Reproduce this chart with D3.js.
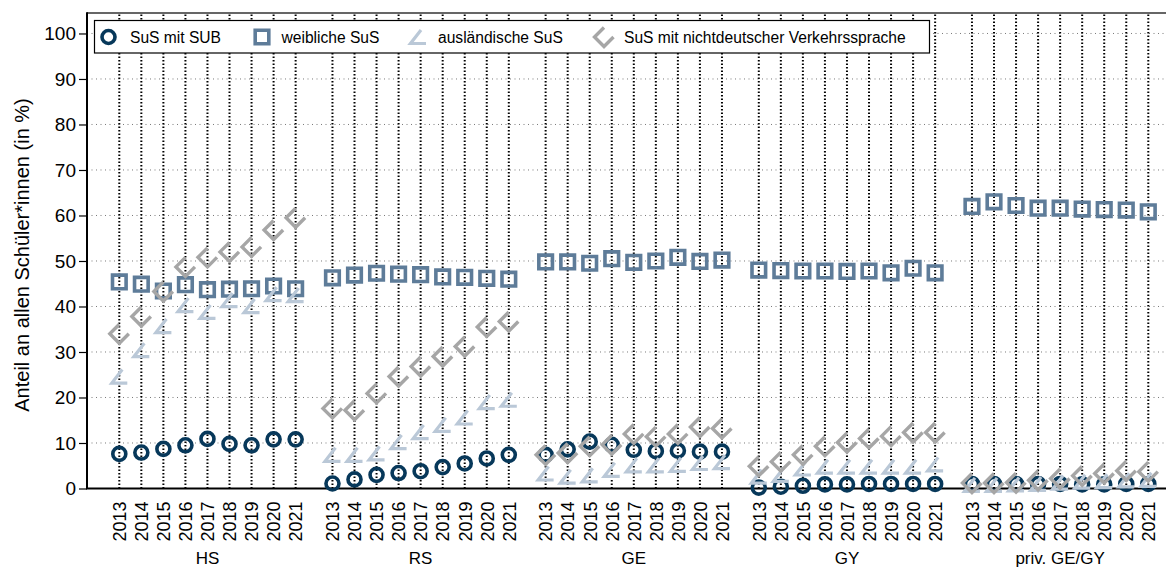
<!DOCTYPE html>
<html>
<head>
<meta charset="utf-8">
<script src="https://cdn.jsdelivr.net/npm/d3@7"></script>
<style>
  html, body { margin: 0; padding: 0; background: #fff; }
  svg { display: block; font-family: "Liberation Sans", Arial, sans-serif; }
</style>
</head>
<body>
<svg id="chart" width="1166" height="568"></svg>
<script>
// ---------------- data ----------------
const groups = ["HS", "RS", "GE", "GY", "priv. GE/GY"];
const years = [2013, 2014, 2015, 2016, 2017, 2018, 2019, 2020, 2021];
const yTicks = [0, 10, 20, 30, 40, 50, 60, 70, 80, 90, 100];
const seriesNames = ["SuS mit SUB", "weibliche SuS", "ausländische SuS", "SuS mit nichtdeutscher Verkehrssprache"];

// values in group order (HS, RS, GE, GY, priv. GE/GY), years 2013..2021
const susSUB = [
  7.6, 7.9, 8.7, 9.5, 10.9, 9.8, 9.5, 10.8, 10.8,
  1.1, 2.0, 3.0, 3.4, 3.8, 4.7, 5.5, 6.6, 7.4,
  7.4, 8.6, 10.3, 9.6, 8.5, 8.2, 8.3, 8.1, 8.1,
  0.2, 0.4, 0.6, 0.9, 0.9, 1.0, 1.0, 1.0, 1.0,
  1.0, 1.0, 1.0, 1.0, 1.0, 0.9, 0.9, 1.0, 1.0
];
const weiblich = [
  45.4, 44.9, 43.4, 44.8, 43.7, 43.8, 43.9, 44.5, 43.9,
  46.3, 46.9, 47.3, 47.1, 47.0, 46.5, 46.4, 46.2, 46.0,
  49.8, 49.8, 49.5, 50.5, 49.7, 50.0, 50.8, 49.9, 50.2,
  48.0, 47.9, 47.8, 47.8, 47.7, 47.8, 47.4, 48.4, 47.4,
  62.0, 63.0, 62.2, 61.6, 61.6, 61.4, 61.3, 61.2, 60.8
];
const auslaendisch = [
  24.6, 30.4, 35.7, 40.3, 38.8, 41.4, 40.1, 42.7, 42.5,
  7.4, 7.4, 7.7, 10.2, 12.4, 14.0, 15.6, 19.0, 19.5,
  3.3, 2.6, 2.9, 4.1, 5.1, 5.1, 5.2, 5.6, 5.8,
  2.6, 3.0, 4.4, 4.8, 4.8, 4.8, 4.8, 4.8, 5.3,
  0.8, 0.8, 0.9, 1.0, 1.3, 1.5, 1.6, 1.8, 1.9
];
const nichtdeutsch = [
  34.0, 37.8, 43.3, 48.7, 50.8, 52.0, 53.1, 56.8, 59.5,
  17.6, 17.2, 20.9, 24.6, 26.8, 29.0, 31.2, 35.5, 36.7,
  7.4, 7.8, 9.3, 9.6, 12.0, 11.4, 12.0, 13.5, 13.2,
  4.9, 5.9, 7.4, 9.3, 10.1, 11.0, 11.5, 12.3, 12.3,
  1.2, 1.2, 1.3, 1.8, 2.2, 2.8, 3.3, 3.9, 3.7
];

// ---------------- layout ----------------
const svg = d3.select("#chart");
const plotLeft = 87, plotRight = 1166, plotTop = 13, plotBottom = 488.5;
const slotsPerGroup = 9.671; // 9 years + gap between groups

const slots = [];
groups.forEach((g, gi) => years.forEach((yr, yi) => slots.push({ g, gi, yr, yi, s: gi * slotsPerGroup + yi })));

const x = d3.scaleLinear()
  .domain([0, (groups.length - 1) * slotsPerGroup + years.length - 1])
  .range([119.3, 1148.3]);
const y = d3.scaleLinear().domain([0, 104.5]).range([plotBottom, plotTop]);

// horizontal grid
svg.append("g").selectAll("line")
  .data(yTicks.filter(d => d > 0))
  .join("line")
  .attr("x1", plotLeft).attr("x2", plotRight)
  .attr("y1", d => y(d)).attr("y2", d => y(d))
  .attr("stroke", "#7a7a7a").attr("stroke-width", 1)
  .attr("stroke-dasharray", "1 3.5");

// vertical grid (dotted)
svg.append("g").selectAll("line")
  .data(slots)
  .join("line")
  .attr("x1", d => x(d.s)).attr("x2", d => x(d.s))
  .attr("y1", plotBottom).attr("y2", plotTop)
  .attr("stroke", "#000").attr("stroke-width", 2)
  .attr("stroke-dasharray", "1.5 2");

// frame: top line
svg.append("line")
  .attr("x1", plotLeft).attr("x2", plotRight)
  .attr("y1", plotTop).attr("y2", plotTop)
  .attr("stroke", "#333").attr("stroke-width", 1.5);

// y axis
const yAxis = d3.axisLeft(y).tickValues(yTicks).tickSize(8).tickPadding(3);
const gy = svg.append("g").attr("transform", `translate(${plotLeft},0)`).call(yAxis);
gy.select(".domain").remove();
gy.selectAll(".tick line").attr("stroke", "#000").attr("stroke-width", 1.2);
gy.selectAll(".tick text").attr("font-size", 19).attr("fill", "#000")
  .attr("font-family", "Liberation Sans, Arial, sans-serif");
svg.append("line")
  .attr("x1", plotLeft).attr("x2", plotLeft)
  .attr("y1", plotTop - 0.75).attr("y2", plotBottom)
  .attr("stroke", "#000").attr("stroke-width", 2);

// y axis title
svg.append("text")
  .attr("transform", `translate(29,${255}) rotate(-90)`)
  .attr("text-anchor", "middle")
  .attr("font-size", 20)
  .text("Anteil an allen Schüler*innen (in %)");

// x axis (years)
const xAxis = d3.axisBottom(x)
  .tickValues(slots.map(d => d.s))
  .tickFormat((d, i) => slots[i].yr)
  .tickSize(0).tickPadding(0);
const gx = svg.append("g").attr("transform", `translate(0,${plotBottom})`).call(xAxis);
gx.select(".domain").remove();
gx.selectAll(".tick text")
  .attr("font-size", 18).attr("fill", "#000")
  .attr("font-family", "Liberation Sans, Arial, sans-serif")
  .attr("transform", "rotate(-90)")
  .attr("text-anchor", "end")
  .attr("x", -13).attr("y", 0).attr("dy", "0.35em");
svg.append("line")
  .attr("x1", plotLeft - 1).attr("x2", plotRight)
  .attr("y1", plotBottom).attr("y2", plotBottom)
  .attr("stroke", "#000").attr("stroke-width", 2);

// group labels
svg.append("g").selectAll("text")
  .data(groups)
  .join("text")
  .attr("x", (d, gi) => (x(gi * slotsPerGroup) + x(gi * slotsPerGroup + years.length - 1)) / 2)
  .attr("y", 564)
  .attr("text-anchor", "middle")
  .attr("font-size", 17)
  .text(d => d);

// ---------------- markers ----------------
const markerDefs = [
  { values: susSUB, color: "#07385a", width: 3.6, path: d3.symbol(d3.symbolCircle, Math.PI * 6.5 * 6.5)() },
  { values: weiblich, color: "#5e7c99", width: 3.6, path: "M-6.8,-6.8H6.8V6.8H-6.8Z" },
  { values: auslaendisch, color: "#bac8d7", width: 3.2, path: "M3,-7L-7.5,6.5H8" },
  { values: nichtdeutsch, color: "#a6a6a6", width: 3.4, path: "M0,-9.5L-9.5,0L0,9.5L9.5,0" }
];

markerDefs.forEach(m => {
  svg.append("g").selectAll("path")
    .data(slots.map((s, i) => ({ s: s.s, v: m.values[i] })))
    .join("path")
    .attr("d", m.path)
    .attr("transform", d => `translate(${x(d.s)},${y(d.v)})`)
    .attr("fill", "none")
    .attr("stroke", m.color)
    .attr("stroke-width", m.width)
    .attr("stroke-linejoin", "miter");
});

// ---------------- legend ----------------
const lg = svg.append("g");
lg.append("rect")
  .attr("x", 94.5).attr("y", 20.5).attr("width", 835).attr("height", 32.5)
  .attr("fill", "#fff").attr("stroke", "#000").attr("stroke-width", 1.2);
const legendPos = [
  { mx: 108.5, tx: 130 },
  { mx: 262, tx: 281.5 },
  { mx: 418, tx: 438 },
  { mx: 604, tx: 624 }
];
markerDefs.forEach((m, i) => {
  lg.append("path")
    .attr("d", m.path)
    .attr("transform", `translate(${legendPos[i].mx},37)`)
    .attr("fill", "none").attr("stroke", m.color).attr("stroke-width", m.width);
  lg.append("text")
    .attr("x", legendPos[i].tx).attr("y", 42.5)
    .attr("font-size", 15.6)
    .text(seriesNames[i]);
});
</script>
</body>
</html>
